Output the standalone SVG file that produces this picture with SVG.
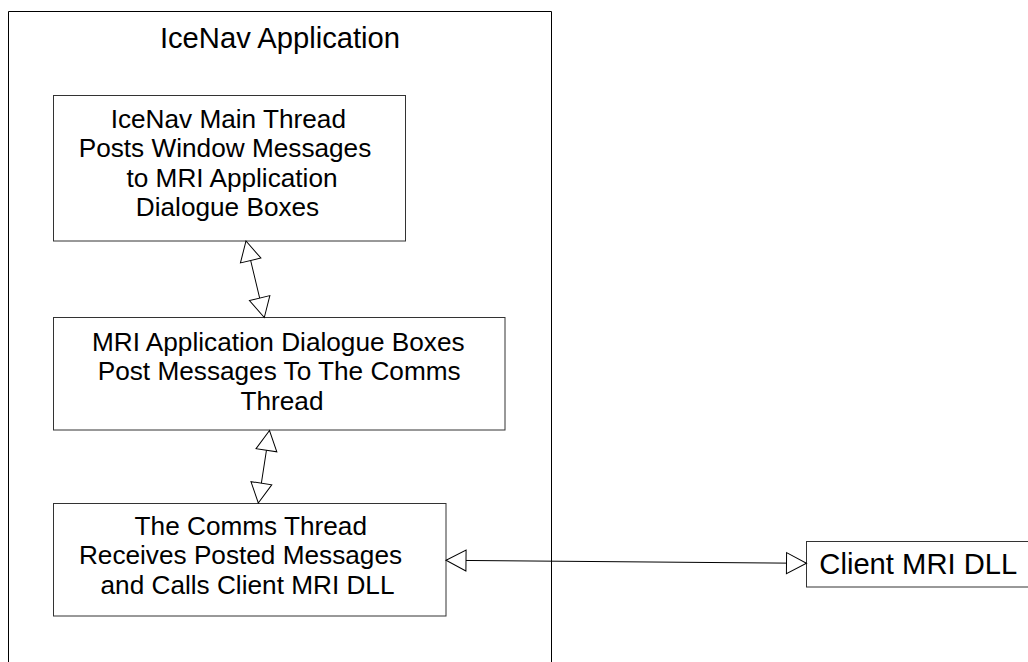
<svg xmlns="http://www.w3.org/2000/svg" width="1028" height="662" viewBox="0 0 1028 662">
<style>
  .box { fill: #ffffff; stroke: #333333; stroke-width: 1; }
  .outer { fill: none; stroke: #000000; stroke-width: 1; }
  .t { font-family: "Liberation Sans", Arial, sans-serif; font-size: 29.2px; fill: #000000; text-anchor: middle; }
  .m { font-size: 26.2px; }
  .conn { stroke: #000000; stroke-width: 1; fill: none; marker-start: url(#tri); marker-end: url(#tri); }
</style>
<defs>
  <marker id="tri" markerUnits="userSpaceOnUse" markerWidth="24" markerHeight="24" viewBox="-1 -12 23 24" refX="20" refY="0" orient="auto-start-reverse">
    <path d="M0,-10.5 L20,0 L0,10.5 Z" fill="#ffffff" stroke="#000000" stroke-width="1"/>
  </marker>
</defs>
<rect width="1028" height="662" fill="#ffffff"/>
<g id="icenav-application">
  <path class="outer" d="M8.5,670 L8.5,11.5 L551.5,11.5 L551.5,670"/>
  <text class="t" x="280" y="48.3">IceNav Application</text>
</g>
<g id="main-thread">
  <rect class="box" x="53.5" y="95.5" width="352" height="145.5"/>
  <text class="t m" x="228.3" y="127.5">IceNav Main Thread</text>
  <text class="t m" x="225" y="157">Posts Window Messages</text>
  <text class="t m" x="232" y="186.5">to MRI Application</text>
  <text class="t m" x="227.5" y="216">Dialogue Boxes</text>
</g>
<g id="dialogue-boxes">
  <rect class="box" x="53.5" y="317.5" width="451.5" height="112.5"/>
  <text class="t m" x="278.3" y="350.5">MRI Application Dialogue Boxes</text>
  <text class="t m" x="279.2" y="380">Post Messages To The Comms</text>
  <text class="t m" x="282" y="409.5">Thread</text>
</g>
<g id="comms-thread">
  <rect class="box" x="53.5" y="503.5" width="392.5" height="112.5"/>
  <text class="t m" x="250.8" y="534.8">The Comms Thread</text>
  <text class="t m" x="240.5" y="564.3">Receives Posted Messages</text>
  <text class="t m" x="247.5" y="593.8">and Calls Client MRI DLL</text>
</g>
<g id="client-mri-dll">
  <rect class="box" x="806.5" y="541.5" width="223.5" height="45.5"/>
  <text class="t" x="918.3" y="574.3">Client MRI DLL</text>
</g>
<g id="connectors">
  <path class="conn" d="M246,241 L264.3,317.5"/>
  <path class="conn" d="M269.5,430.5 L258.3,503"/>
  <path class="conn" d="M446,560.3 L806.5,563.3"/>
</g>
</svg>
